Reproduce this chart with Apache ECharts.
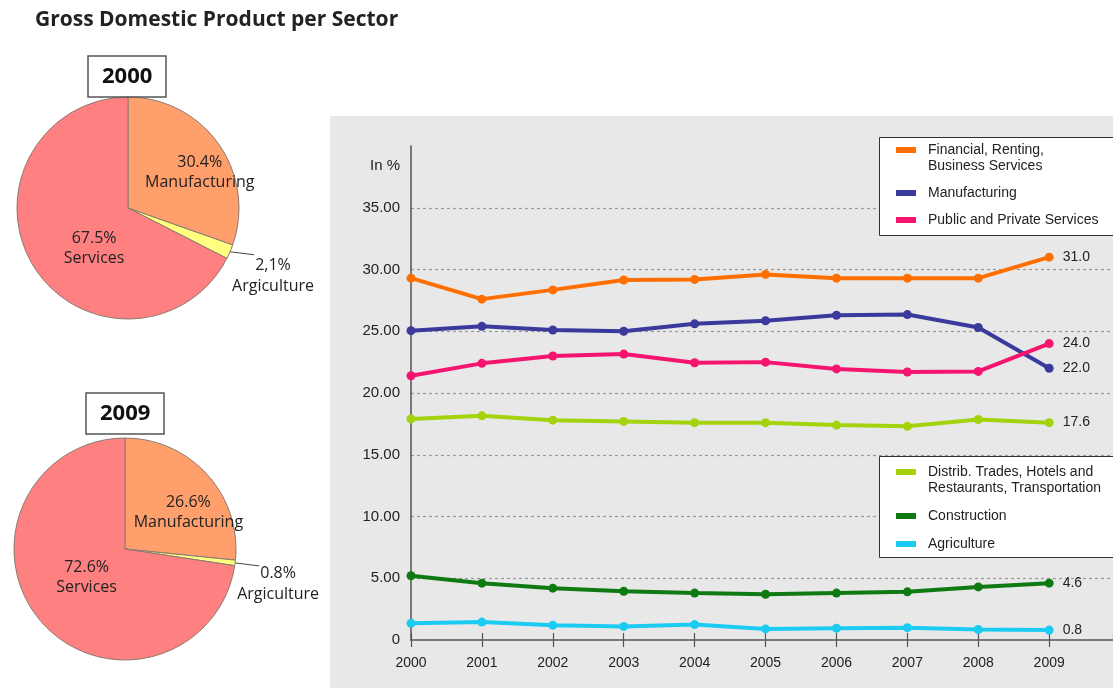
<!DOCTYPE html>
<html>
<head>
<meta charset="utf-8">
<script src="https://cdn.jsdelivr.net/npm/echarts@6/dist/echarts.min.js"></script>
<style>
  html, body { margin: 0; padding: 0; background: #fff; }
  #chart { width: 1113px; height: 691px; }
</style>
</head>
<body>
<div id="chart"></div>
<script>
// ---- Pie data: GDP share by broad sector ----
const pieSectors  = ['Manufacturing', 'Agriculture', 'Services'];
const pieCaptions = ['Manufacturing', 'Argiculture', 'Services'];
const share2000   = [30.4, 2.1, 67.5];
const share2009   = [26.6, 0.8, 72.6];
const decimalMark2000 = ['.', ',', '.'];
const decimalMark2009 = ['.', '.', '.'];

// ---- Line data: GDP share by detailed sector (in %) ----
const years = [2000, 2001, 2002, 2003, 2004, 2005, 2006, 2007, 2008, 2009];
const financial     = [29.3, 27.6, 28.35, 29.15, 29.2, 29.6, 29.3, 29.3, 29.3, 31.0];
const manufacturing = [25.05, 25.4, 25.1, 25.0, 25.6, 25.85, 26.3, 26.35, 25.3, 22.0];
const publicPrivate = [21.4, 22.4, 23.0, 23.15, 22.45, 22.5, 21.95, 21.7, 21.75, 24.0];
const distribTrades = [17.9, 18.15, 17.8, 17.7, 17.6, 17.6, 17.4, 17.3, 17.85, 17.6];
const construction  = [5.2, 4.6, 4.2, 3.95, 3.8, 3.7, 3.8, 3.9, 4.3, 4.6];
const agriculture   = [1.35, 1.45, 1.2, 1.1, 1.25, 0.9, 0.95, 1.0, 0.85, 0.8];

const seriesNames = [
  'Financial, Renting,\nBusiness Services',
  'Manufacturing',
  'Public and Private Services',
  'Distrib. Trades, Hotels and\nRestaurants, Transportation',
  'Construction',
  'Agriculture'
];

// ---- Styling ----
const PIE_FONT = '"Open Sans", sans-serif';
const CHART_FONT = '"Liberation Sans", Arial, sans-serif';
const pieColors = ['#ff9f6b', '#ffff80', '#ff8080'];
const lineColors = ['#ff6f00', '#3a3a9c', '#f5146e', '#a3d30c', '#107a12', '#1ccbf2'];

const chart = echarts.init(document.getElementById('chart'), null, { renderer: 'canvas' });

function fmtShare(v, mark) {
  return v.toFixed(1).replace('.', mark) + '%';
}

function pieSeries(center, shares, marks, nudges) {
  return {
    type: 'pie',
    center: center,
    radius: 111,
    startAngle: 90,
    clockwise: true,
    avoidLabelOverlap: false,
    silent: true,
    animation: false,
    itemStyle: { borderColor: '#8a7a70', borderWidth: 1 },
    label: {
      show: true,
      position: 'inside',
      color: '#222',
      fontFamily: PIE_FONT,
      fontSize: 16,
      lineHeight: 20,
      formatter: p => fmtShare(p.value, marks[p.dataIndex]) + '\n' + pieCaptions[p.dataIndex]
    },
    labelLine: { show: false },
    labelLayout: function (params) {
      const i = params.dataIndex;
      if (i === 1) {
        const p = params.labelLinePoints[0];
        return {
          x: p[0] + nudges[1][0],
          y: p[1] + nudges[1][1],
          align: 'center',
          verticalAlign: 'middle',
          labelLinePoints: [[p[0], p[1]], [p[0] + 12, p[1] + 1.5], [p[0] + 24, p[1] + 3]]
        };
      }
      return { dx: nudges[i][0], dy: nudges[i][1] };
    },
    data: pieSectors.map((name, i) => ({
      name: name,
      value: shares[i],
      itemStyle: { color: pieColors[i] },
      label: i === 1 ? { position: 'outside', lineHeight: 21 } : {},
      labelLine: i === 1
        ? { show: true, length: 10, length2: 10, lineStyle: { color: '#444', width: 1 } }
        : { show: false }
    }))
  };
}

function lineSeries(idx, values) {
  const color = lineColors[idx];
  return {
    type: 'line',
    name: seriesNames[idx],
    xAxisIndex: 0,
    yAxisIndex: 0,
    symbol: 'circle',
    symbolSize: 9,
    showSymbol: true,
    animation: false,
    silent: true,
    lineStyle: { color: color, width: 4 },
    itemStyle: { color: color },
    label: {
      show: false,
      position: 'right',
      distance: 9,
      fontFamily: CHART_FONT,
      fontSize: 14,
      color: '#222',
      formatter: p => p.value[1].toFixed(1)
    },
    data: values.map((v, i) =>
      i === values.length - 1
        ? { value: [years[i], v], label: { show: true } }
        : [years[i], v])
  };
}

const legendText = {
  fontFamily: CHART_FONT,
  fontSize: 14,
  lineHeight: 16,
  color: '#222',
  padding: [0, 0, 0, 7]
};
// two-line entries get a blank leading line so the first line sits beside the swatch
const legendFormatter = name => (name.indexOf('\n') >= 0 ? '\n' + name : name);

const option = {
  backgroundColor: '#fff',
  animation: false,
  title: [
    {
      text: 'Gross Domestic Product per Sector',
      left: 30, top: 5,
      textStyle: { fontFamily: PIE_FONT, fontWeight: 'bold', fontSize: 21, color: '#222' }
    },
    {
      text: '2000',
      left: 88, top: 56,
      padding: [6, 14],
      borderColor: '#555', borderWidth: 1.5,
      textStyle: { fontFamily: PIE_FONT, fontWeight: 'bold', fontSize: 22, lineHeight: 29, color: '#111' }
    },
    {
      text: '2009',
      left: 86, top: 393,
      padding: [6, 14],
      borderColor: '#555', borderWidth: 1.5,
      textStyle: { fontFamily: PIE_FONT, fontWeight: 'bold', fontSize: 22, lineHeight: 29, color: '#111' }
    }
  ],
  graphic: [
    { type: 'rect', silent: true, z: -10,
      shape: { x: 330, y: 116, width: 783, height: 572 },
      style: { fill: '#e8e8e8' } },
    { type: 'rect', silent: true, z: 50,
      shape: { x: 879.5, y: 137.5, width: 260, height: 98 },
      style: { fill: '#fff', stroke: '#333', lineWidth: 1 } },
    { type: 'rect', silent: true, z: 50,
      shape: { x: 879.5, y: 456.5, width: 260, height: 101 },
      style: { fill: '#fff', stroke: '#333', lineWidth: 1 } }
  ],
  legend: [
    {
      z: 60, orient: 'vertical', left: 896, top: 126, padding: 0, itemGap: 11,
      icon: 'rect', itemWidth: 20, itemHeight: 6,
      selectedMode: false,
      textStyle: legendText,
      formatter: legendFormatter,
      data: [seriesNames[0], seriesNames[1], seriesNames[2]]
    },
    {
      z: 60, orient: 'vertical', left: 896, top: 448, padding: 0, itemGap: 12,
      icon: 'rect', itemWidth: 20, itemHeight: 6,
      selectedMode: false,
      textStyle: legendText,
      formatter: legendFormatter,
      data: [seriesNames[3], seriesNames[4], seriesNames[5]]
    }
  ],
  grid: { left: 411, right: 0, top: 146, bottom: 51, containLabel: false },
  xAxis: [
    {
      type: 'value', min: 2000, max: 2009.9, interval: 1,
      axisLine: { show: true, onZero: false, lineStyle: { color: '#555', width: 1.5 } },
      axisTick: { show: true, length: 7, lineStyle: { color: '#555', width: 1.2 } },
      axisLabel: {
        showMaxLabel: false, margin: 16,
        fontFamily: CHART_FONT, fontSize: 14, color: '#222',
        formatter: v => String(v)
      },
      splitLine: { show: false }
    },
    {
      type: 'value', min: 2000, max: 2009.9, interval: 1, position: 'bottom',
      axisLine: { show: false },
      axisTick: { show: true, inside: true, length: 7, lineStyle: { color: '#555', width: 1.2 } },
      axisLabel: { show: false },
      splitLine: { show: false }
    }
  ],
  yAxis: {
    type: 'value', min: 0, max: 40, interval: 5,
    name: 'In %', nameLocation: 'end', nameGap: -20,
    nameTextStyle: {
      fontFamily: CHART_FONT, fontSize: 15, color: '#222',
      align: 'right', verticalAlign: 'middle', padding: [0, 11, 0, 0]
    },
    axisLine: { show: true, lineStyle: { color: '#555', width: 1.5 } },
    axisTick: { show: false },
    axisLabel: {
      showMaxLabel: false, margin: 11,
      fontFamily: CHART_FONT, fontSize: 15, color: '#222',
      formatter: v => (v === 0 ? '0' : v.toFixed(2))
    },
    splitLine: {
      show: true, showMinLine: false, showMaxLine: false,
      lineStyle: { color: '#9a9a9a', type: [3, 3], width: 1.2 }
    }
  },
  series: [
    lineSeries(0, financial),
    lineSeries(1, manufacturing),
    lineSeries(2, publicPrivate),
    lineSeries(3, distribTrades),
    lineSeries(4, construction),
    lineSeries(5, agriculture),
    pieSeries([128, 208], share2000, decimalMark2000, [[24, -2], [43, 24], [16, 10]]),
    pieSeries([125, 549], share2009, decimalMark2009, [[20, 3], [43, 21], [6, -10]])
  ]
};

chart.setOption(option);
</script>
</body>
</html>
